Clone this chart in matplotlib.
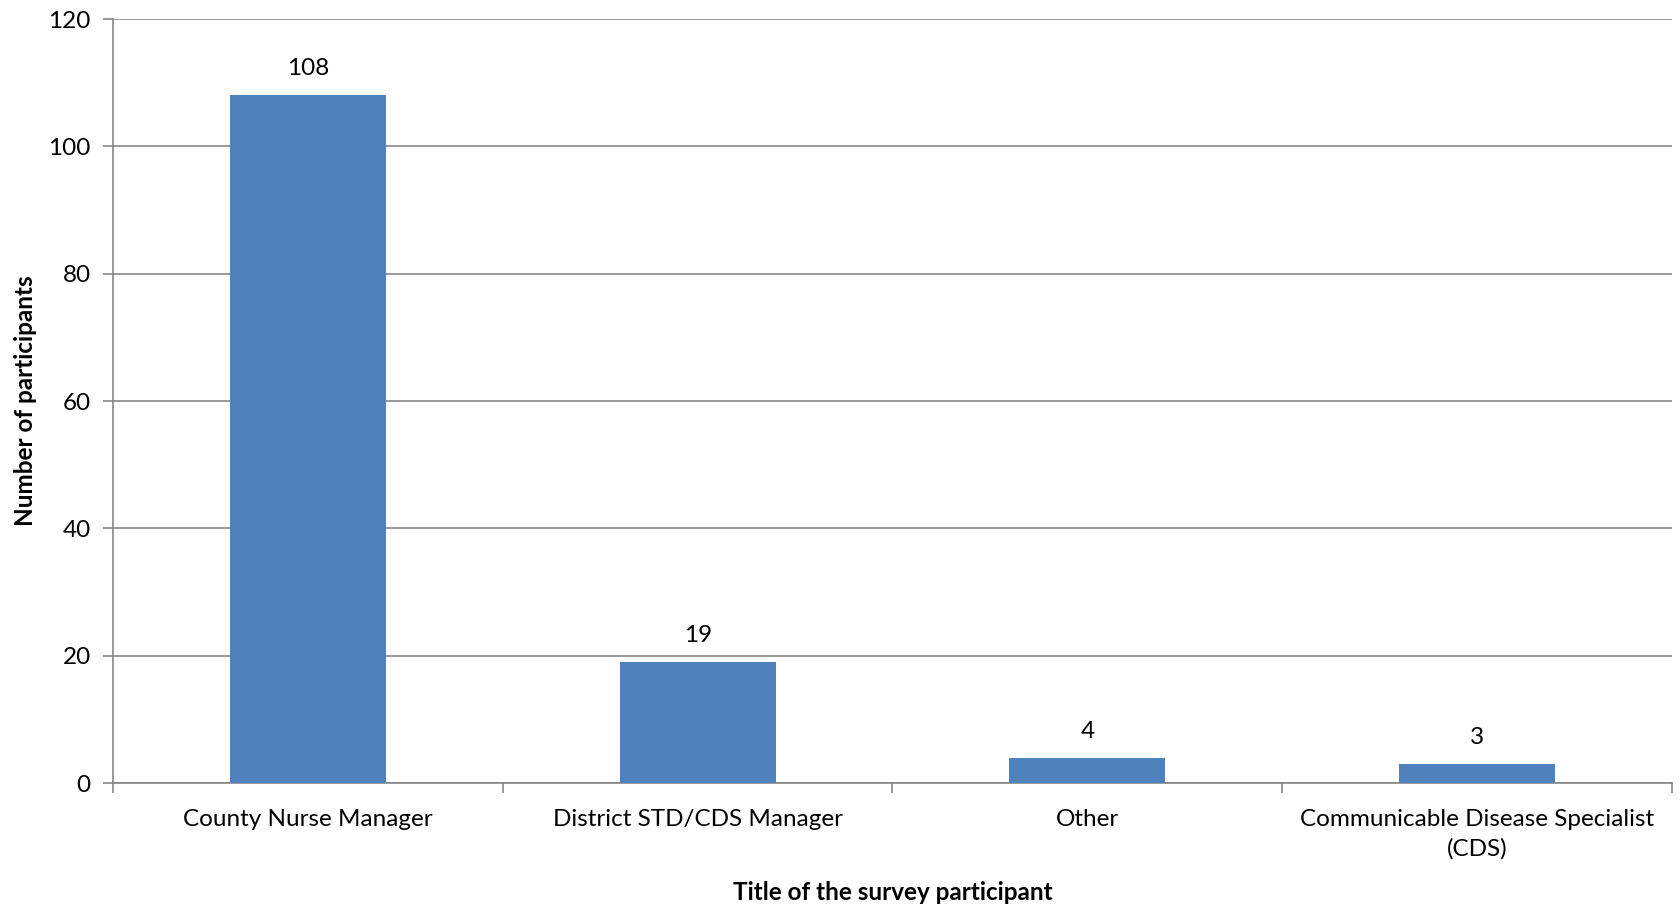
import matplotlib
matplotlib.use("Agg")
import matplotlib.pyplot as plt

categories = ["County Nurse Manager", "District STD/CDS Manager", "Other",
              "Communicable Disease Specialist\n(CDS)"]
counts = [108, 19, 4, 3]
y_ticks = [0, 20, 40, 60, 80, 100, 120]

plt.rcParams["font.family"] = ["Lato", "DejaVu Sans"]

W, H, DPI = 1681, 906, 100
FS = 17.5
fig = plt.figure(figsize=(W / DPI, H / DPI), dpi=DPI)
left, right, top, bottom = 113, 1672, 19, 783
ax = fig.add_axes([left / W, (H - bottom) / H, (right - left) / W, (bottom - top) / H])

grid_color = "#868686"
x = list(range(len(categories)))
ax.bar(x, counts, width=0.4, color="#4F81BD", zorder=3)
ax.set_xlim(-0.5, len(categories) - 0.5)
ax.set_ylim(0, 120)
ax.set_yticks(y_ticks)
ax.yaxis.grid(True, color=grid_color, linewidth=1.2, zorder=0)

for xi, v in zip(x, counts):
    ax.annotate(str(v), (xi, v), xytext=(0, 16), textcoords="offset pixels",
                ha="center", va="bottom", fontsize=FS, color="black")

# category boundaries as tick marks
ax.set_xticks([i - 0.5 for i in range(len(categories) + 1)])
ax.set_xticklabels([])
ax.set_xticks(x, minor=True)
ax.set_xticklabels(categories, minor=True, fontsize=FS, linespacing=1.45)
ax.tick_params(axis="x", which="minor", length=0, pad=19)
ax.tick_params(axis="x", which="major", length=7, color=grid_color, width=1.2)
ax.tick_params(axis="y", length=7, color=grid_color, width=1.2, labelsize=FS, pad=9)

for s in ["top", "right"]:
    ax.spines[s].set_visible(False)
for s in ["left", "bottom"]:
    ax.spines[s].set_color(grid_color)
    ax.spines[s].set_linewidth(1.2)

ax.set_ylabel("Number of participants", fontsize=FS, fontweight="bold", labelpad=8)
ax.set_xlabel("Title of the survey participant", fontsize=FS, fontweight="bold", labelpad=15)

fig.savefig("out.png", dpi=DPI)
